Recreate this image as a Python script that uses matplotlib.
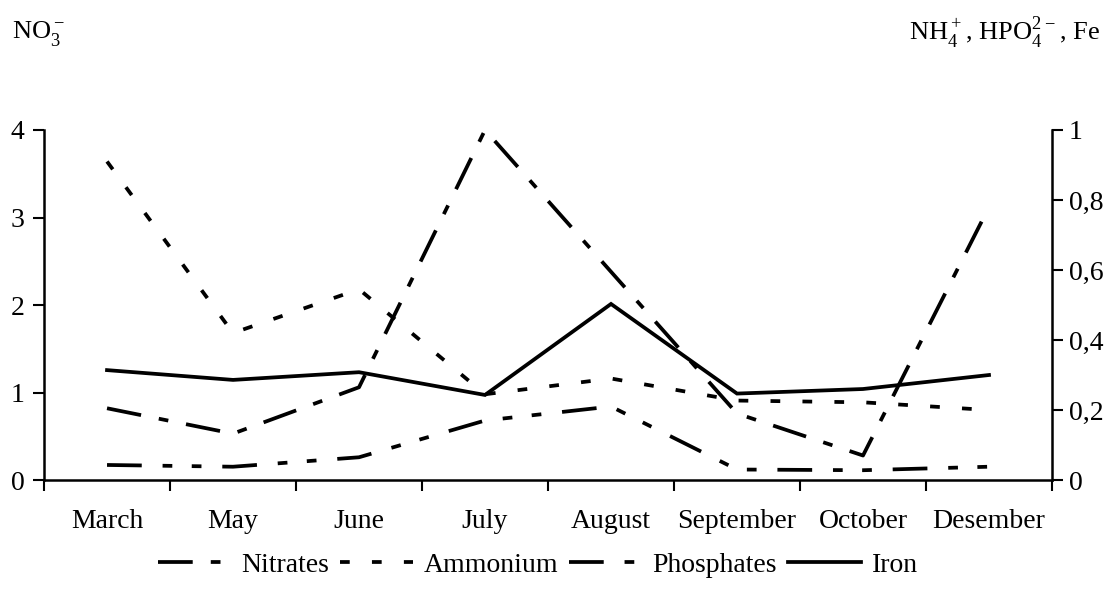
import numpy as np
import matplotlib
matplotlib.use('Agg')
import matplotlib.pyplot as plt
from matplotlib.ticker import FuncFormatter

plt.rcParams['font.family'] = ['Liberation Serif', 'DejaVu Serif']
plt.rcParams['mathtext.fontset'] = 'custom'
plt.rcParams['mathtext.rm'] = 'Liberation Serif'
plt.rcParams['lines.scale_dashes'] = False

months = ['March', 'May', 'June', 'July', 'August', 'September', 'October', 'Desember']

# left axis (NO3-)
nitrates = [0.82, 0.53, 1.06, 4.0, 2.38, 0.76, 0.28, 3.12]
# right axis (NH4+, HPO4 2-, Fe)
ammonium = [0.91, 0.42, 0.545, 0.245, 0.29, 0.227, 0.222, 0.2]
phosphates = [0.043, 0.038, 0.065, 0.17, 0.21, 0.03, 0.028, 0.038]
iron = [0.314, 0.286, 0.308, 0.243, 0.503, 0.247, 0.26, 0.30]

left_ticks = [0, 1, 2, 3, 4]
right_ticks = [0, 0.2, 0.4, 0.6, 0.8, 1]

fig = plt.figure(figsize=(11.09, 6.01), dpi=100)
ax = fig.add_axes([0.0397, 0.2013, 0.9089, 0.5824])
ax2 = ax.twinx()

x = np.arange(len(months))
lw = 2.7
fs = 20

l1, = ax.plot(x, nitrates, color='black', lw=lw, dashes=(25, 13, 7, 13),
              label='Nitrates')
l2, = ax2.plot(x, ammonium, color='black', lw=lw, dashes=(7, 16),
               label='Ammonium')
l3, = ax2.plot(x, phosphates, color='black', lw=lw,
               dashes=(25, 15, 7, 14, 7, 15), label='Phosphates')
l4, = ax2.plot(x, iron, color='black', lw=lw, solid_joinstyle='miter',
               label='Iron')

ax.set_xlim(-0.5, len(months) - 0.5)
ax.set_ylim(0, 4)
ax2.set_ylim(0, 1)

ax.set_xticks(np.arange(-0.5, len(months), 1.0))
ax.set_xticklabels([])
ax.set_xticks(x, minor=True)
ax.set_xticklabels(months, minor=True, fontsize=fs)
ax.tick_params(axis='x', which='major', direction='out', length=8, width=1.5)
ax.tick_params(axis='x', which='minor', length=0, pad=21)

ax.set_yticks(left_ticks)
ax.tick_params(axis='y', direction='out', length=8, width=1.5, labelsize=fs, pad=6)
ax2.set_yticks(right_ticks)
ax2.yaxis.set_major_formatter(FuncFormatter(lambda v, p: ('%g' % v).replace('.', ',')))
ax2.tick_params(axis='y', direction='out', length=8, width=1.5, labelsize=fs, pad=4)

for a in (ax, ax2):
    a.spines['top'].set_visible(False)
    for s in a.spines.values():
        s.set_linewidth(1.8)
ax.spines['right'].set_visible(False)
ax2.spines['left'].set_visible(False)
ax2.spines['bottom'].set_visible(False)

fig.text(0.011, 0.945, 'NO$_3^-$', fontsize=19, ha='left', va='center')
fig.text(0.992, 0.945, 'NH$_4^+$, HPO$_4^{2-}$, Fe', fontsize=19, ha='right', va='center')

fig.legend([l1, l2, l3, l4], ['Nitrates', 'Ammonium', 'Phosphates', 'Iron'],
           loc='center', bbox_to_anchor=(0.485, 0.06), ncol=4, frameon=False,
           fontsize=fs, handlelength=2.6, handletextpad=0.4, columnspacing=0.4)

fig.savefig('out.png', dpi=100)
